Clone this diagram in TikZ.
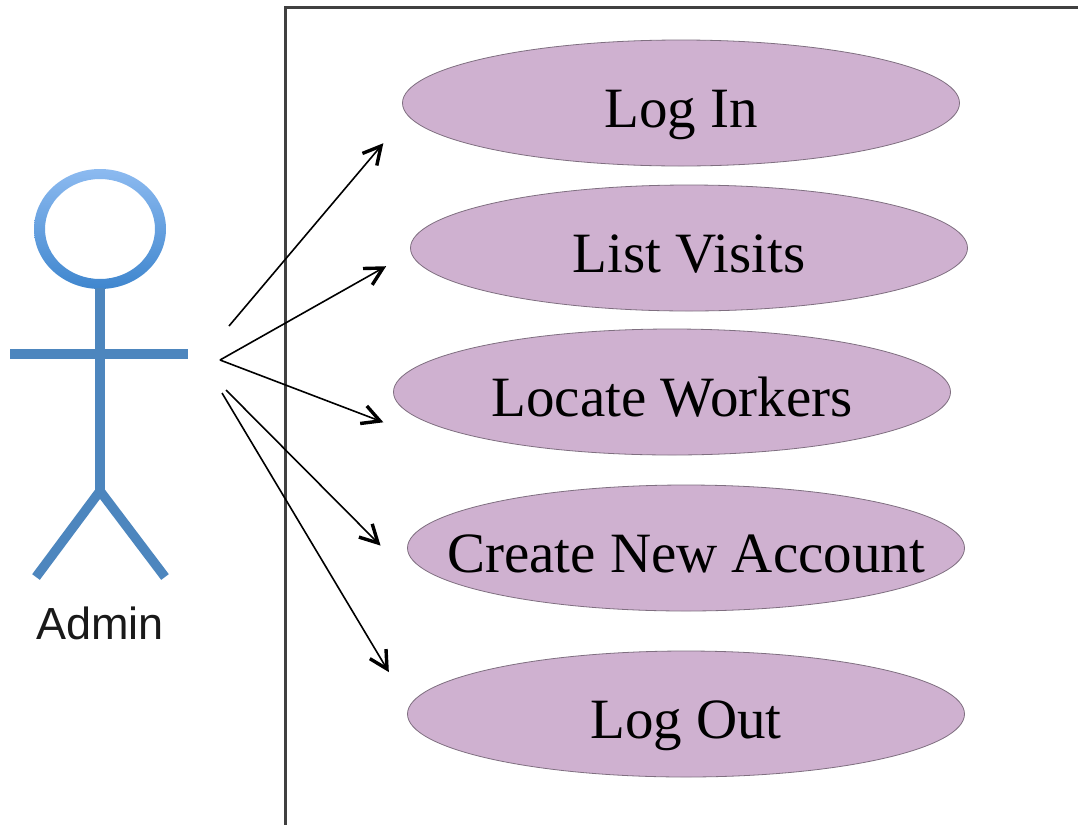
\documentclass[tikz,border=0pt]{standalone}
\usepackage{fontspec}
\setmainfont{Liberation Serif}
\newfontfamily\actorfont{Liberation Sans}
\usetikzlibrary{shapes.geometric,calc}
\definecolor{casefill}{HTML}{CFB1D0}
\definecolor{caseline}{HTML}{7F6F80}
\definecolor{actorblue}{HTML}{4D86BE}
\definecolor{headtop}{HTML}{8CBAF0}
\definecolor{headbottom}{HTML}{3F86CE}
\begin{document}
\begin{tikzpicture}[x=1pt, y=-1pt,
  usecase/.style={ellipse, draw=caseline, fill=casefill, line width=.8pt, minimum width=557pt, minimum height=126pt, inner sep=0pt, text height=48pt, text depth=0pt, font=\fontsize{57}{60}\selectfont},
  assoc/.style={line width=1.6pt},
  barb/.style={line width=3.4pt, line join=miter},
  limb/.style={actorblue, line width=9.5pt}]

  \useasboundingbox (0,0) rectangle (1078,825);
  \fill[white] (0,0) rectangle (1078,825);

  % system box
  \draw[color=black!75, line width=3pt] (1078,7) -- (285,7) -- (285,825);

  % actor
  \path[even odd rule, top color=headtop, bottom color=headbottom]
    (100,229) ellipse [x radius=66, y radius=60] (100,229) ellipse [x radius=55, y radius=50];
  \coordinate (neck) at (100,288);
  \coordinate (hip) at (100,491);
  \coordinate (handl) at (10,354);
  \coordinate (handr) at (188,354);
  \coordinate (footl) at (36,577);
  \coordinate (footr) at (165,577);
  \draw[limb] (neck) -- (hip);
  \draw[limb] (handl) -- (handr);
  \draw[limb] (footl) -- (hip) -- (footr);
  \node[font=\actorfont\fontsize{45}{47}\selectfont, color=black!90] (admin) at (100,623) {Admin};

  % use cases
  \node[usecase] (login) at (681,103) {\makebox[0pt]{Log In}};
  \node[usecase] (visits) at (689,248) {\makebox[0pt]{List Visits}};
  \node[usecase] (workers) at (672,392) {\makebox[0pt]{Locate Workers}};
  \node[usecase] (account) at (686,548) {\makebox[0pt]{Create New Account}};
  \node[usecase] (logout) at (686,714) {\makebox[0pt]{Log Out}};

  % arrow ends
  \coordinate (s1) at (229,326);
  \coordinate (e1) at (381,146);
  \coordinate (s2) at (220,360);
  \coordinate (e2) at (383,268);
  \coordinate (e3) at (380,421);
  \coordinate (s4) at (226,390);
  \coordinate (e4) at (378,543);
  \coordinate (s5) at (222,393);
  \coordinate (e5) at (387,669);
  \foreach \s/\e in {s1/e1, s2/e2, s2/e3, s4/e4, s5/e5} {
    \draw[assoc] (\s) -- (\e);
    \draw[barb] ($(\e)!20pt!28:(\s)$) -- (\e) -- ($(\e)!20pt!-28:(\s)$);
  };
\end{tikzpicture}
\end{document}
